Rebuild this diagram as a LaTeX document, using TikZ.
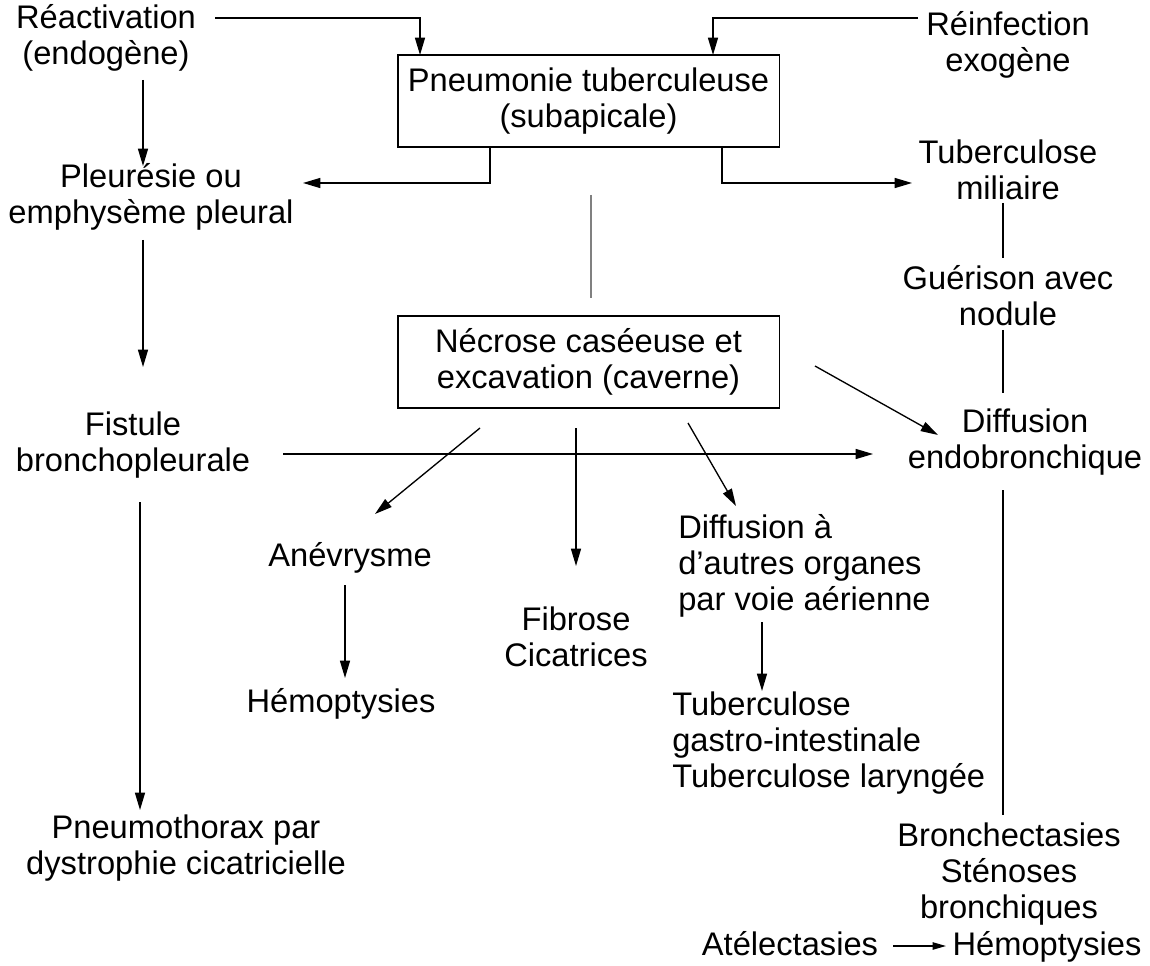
\documentclass[tikz,border=0pt]{standalone}
\usepackage{fontspec}
\setmainfont{Liberation Sans}
\usetikzlibrary{arrows.meta}
\begin{document}
\begin{tikzpicture}[x=0.75pt,y=-0.75pt,
  lbl/.style={align=center, font=\fontsize{24.5}{27}\selectfont, inner sep=0pt},
  lbll/.style={align=left, font=\fontsize{24.5}{27}\selectfont, inner sep=0pt, anchor=west},
  box/.style={draw, line width=1pt, minimum width=286pt, minimum height=69pt, align=center, inner sep=0pt, font=\fontsize{24.5}{27}\selectfont},
  arr/.style={-{Triangle[length=13pt,width=7.5pt]}, line width=1pt},
  sarr/.style={-{Triangle[length=10pt,width=5.5pt]}, line width=1pt},
  ln/.style={line width=1pt},
  gln/.style={line width=0.8pt, draw=gray}]
\useasboundingbox (0,0) rectangle (1150,966);
% nodes
\node[lbl] (react) at (106,38) {Réactivation\\(endogène)};
\node[lbl] (reinf) at (1008,45) {Réinfection\\exogène};
\node[box] (pneu) at (588.5,101) {Pneumonie tuberculeuse\\(subapicale)};
\node[lbl] (pleur) at (151,197) {Pleurésie ou\\emphysème pleural};
\node[lbl] (milia) at (1008,170) {Tuberculose\\miliaire};
\node[lbl] (guer) at (1008,296) {Guérison avec\\nodule};
\node[box] (necr) at (588.5,362) {Nécrose caséeuse et\\excavation (caverne)};
\node[lbl] (diffe) at (1025,442) {Diffusion\\endobronchique};
\node[lbl] (fist) at (133,445) {Fistule\\bronchopleurale};
\node[lbl] (anev) at (350,558) {Anévrysme};
\node[lbl] (hemo1) at (341,704) {Hémoptysies};
\node[lbl] (fibr) at (576,637) {Fibrose\\Cicatrices};
\node[lbll] (diffa) at (678,566) {Diffusion à\\d'autres organes\\par voie aérienne};
\node[lbll] (tbgi) at (672,743) {Tuberculose\\gastro-intestinale\\Tuberculose laryngée};
\node[lbl] (pneumo) at (186,848) {Pneumothorax par\\dystrophie cicatricielle};
\node[lbl] (bronch) at (1009,874) {Bronchectasies\\Sténoses\\bronchiques};
\node[lbl, anchor=base] (atel) at (790,955) {Atélectasies};
\node[lbl, anchor=base] (hemo2) at (1047,955) {Hémoptysies};
% coordinates
\coordinate (c1) at (215,18);
\coordinate (c2) at (420,55);
\coordinate (c3) at (918,18);
\coordinate (c4) at (713,55);
\coordinate (c5) at (490,147);
\coordinate (c6) at (303,183);
\coordinate (c7) at (722,147);
\coordinate (c8) at (912,183);
\coordinate (c9) at (143,80);
\coordinate (c10) at (143,166);
\coordinate (g1) at (591,195);
\coordinate (g2) at (591,298);
\coordinate (m1) at (1003,203);
\coordinate (m2) at (1003,258);
\coordinate (m3) at (1003,330);
\coordinate (m4) at (1003,393);
\coordinate (d1) at (815,366);
\coordinate (d2) at (938,435);
\coordinate (p1) at (143,240);
\coordinate (p2) at (143,367);
\coordinate (f1) at (283,454);
\coordinate (f2) at (873,454);
\coordinate (f3) at (140,502);
\coordinate (f4) at (140,810);
\coordinate (a1) at (480,428);
\coordinate (a2) at (375,514);
\coordinate (a3) at (345,585);
\coordinate (a4) at (345,678);
\coordinate (b1) at (576,428);
\coordinate (b2) at (576,566);
\coordinate (e1) at (688,423);
\coordinate (e2) at (736,506);
\coordinate (e3) at (762,622);
\coordinate (e4) at (762,691);
\coordinate (n1) at (1003,490);
\coordinate (n2) at (1003,815);
\coordinate (t1) at (893,946);
\coordinate (t2) at (946,946);
% connectors
\draw[arr] (c1) -| (c2);
\draw[arr] (c3) -| (c4);
\draw[arr] (c5) |- (c6);
\draw[arr] (c7) |- (c8);
\draw[arr] (c9) -- (c10);
\draw[gln] (g1) -- (g2);
\draw[ln] (m1) -- (m2);
\draw[ln] (m3) -- (m4);
\draw[arr] (d1) -- (d2);
\draw[arr] (p1) -- (p2);
\draw[arr] (f1) -- (f2);
\draw[arr] (f3) -- (f4);
\draw[arr] (a1) -- (a2);
\draw[arr] (a3) -- (a4);
\draw[arr] (b1) -- (b2);
\draw[arr] (e1) -- (e2);
\draw[arr] (e3) -- (e4);
\draw[ln] (n1) -- (n2);
\draw[sarr] (t1) -- (t2);
\end{tikzpicture}
\end{document}
